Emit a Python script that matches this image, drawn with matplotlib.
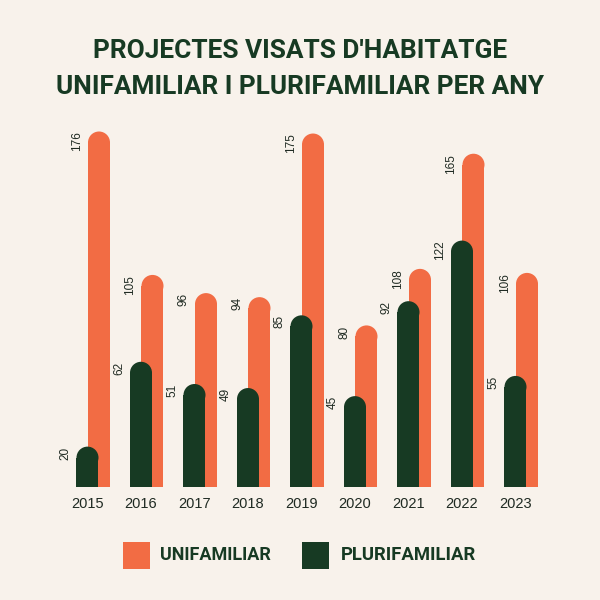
import matplotlib
matplotlib.use('Agg')
import matplotlib.pyplot as plt
from matplotlib.patches import Ellipse, Rectangle

# dades
anys = ['2015', '2016', '2017', '2018', '2019', '2020', '2021', '2022', '2023']
unifamiliar = [176, 105, 96, 94, 175, 80, 108, 165, 106]
plurifamiliar = [20, 62, 51, 49, 85, 45, 92, 122, 55]

fons = '#f8f2eb'
taronja = '#f26c44'
verd = '#173a23'
color_text = '#1f2a22'

fig = plt.figure(figsize=(6, 6), dpi=100, facecolor=fons)
ax = fig.add_axes([0.0745, 0.1883, 0.856, 0.606])
ax.set_facecolor(fons)
ax.set_xlim(-0.8, 8.8)
ax.set_ylim(0, 180)

# mides en unitats de dades (px -> dades)
px_x = 0.856 * 600 / 9.6
px_y = 0.606 * 600 / 180
w = 22 / px_x
desp = 11.5 / px_x
ry = 11 / px_y
gap = 5 / px_x


def barra_arrodonida(x, v, color, z):
    ax.bar(x, v - ry, width=w, color=color, zorder=z, linewidth=0)
    ax.add_patch(Ellipse((x, v - ry), w, 2 * ry, facecolor=color,
                         edgecolor='none', zorder=z))
    ax.text(x - w / 2 - gap, v, str(v), rotation=90, ha='right', va='top',
            fontsize=8.5, color=color_text, family='Liberation Sans', zorder=5)


for i in range(len(anys)):
    barra_arrodonida(i + desp, unifamiliar[i], taronja, 2)
    barra_arrodonida(i, plurifamiliar[i], verd, 3)

ax.set_xticks(range(len(anys)))
ax.set_xticklabels(anys, fontsize=10.5, color=color_text, family='Liberation Sans')
ax.tick_params(axis='x', length=0, pad=7)
ax.set_yticks([])
for s in ax.spines.values():
    s.set_visible(False)

# titol
titol_font = dict(family='Roboto', weight='bold', fontsize=20,
                  color=verd, ha='center', va='center')
t1 = fig.text(0.5, 1 - 51 / 600, "PROJECTES VISATS D'HABITATGE", **titol_font)
t2 = fig.text(0.5, 1 - 87 / 600, "UNIFAMILIAR I PLURIFAMILIAR PER ANY", **titol_font)

# llegenda
fig.add_artist(Rectangle((123 / 600, 1 - 569 / 600), 27 / 600, 27 / 600,
                         transform=fig.transFigure, facecolor=taronja, edgecolor='none'))
fig.add_artist(Rectangle((302 / 600, 1 - 569 / 600), 27 / 600, 27 / 600,
                         transform=fig.transFigure, facecolor=verd, edgecolor='none'))
llegenda_font = dict(family='Roboto', weight='bold', fontsize=14,
                     color=verd, ha='left', va='center')
l1 = fig.text(160 / 600, 1 - 555 / 600, 'UNIFAMILIAR', **llegenda_font)
l2 = fig.text(341 / 600, 1 - 555 / 600, 'PLURIFAMILIAR', **llegenda_font)

# ajusta la mida de lletra a l'amplada del text original
renderer = fig.canvas.get_renderer()
for t, ample in [(t2, 488), (l1, 112), (l2, 136)]:
    bb = t.get_window_extent(renderer)
    t.set_fontsize(t.get_fontsize() * ample / bb.width)
t1.set_fontsize(t2.get_fontsize())

fig.savefig('out.png', dpi=100, facecolor=fons)
